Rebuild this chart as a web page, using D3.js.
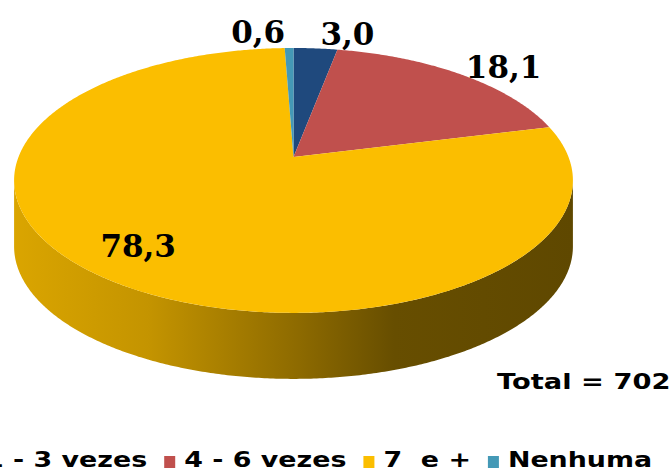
<!DOCTYPE html>
<html lang="en">
<head>
<meta charset="utf-8">
<script src="https://d3js.org/d3.v7.min.js"></script>
<style>
  body { margin: 0; background: white; }
  svg { display: block; background: white; }
  .lbl { font-family: 'DejaVu Serif'; font-weight: bold; font-size: 31px; fill: #000; }
  .leg, .total { font-family: 'DejaVu Sans'; font-weight: bold; fill: #000; white-space: pre; }
</style>
</head>
<body>
<svg width="671" height="471"></svg>
<script>
// data (percentages), clockwise from 12 o'clock
const categories = ["1 - 3 vezes", "4 - 6 vezes", "7  e +", "Nenhuma"];
const values = [3.0, 18.1, 78.3, 0.6];
const valueLabels = ["3,0", "18,1", "78,3", "0,6"];
const colors = ["#1F497D", "#C0504D", "#FBBE00", "#4499B6"];
const totalText = "Total = 702";

const svg = d3.select("svg");

// perspective projection of the unit disc: centre (CX,CY), k < 0 makes the front bigger
const CX = 293.5, CY = 157, A = 275, B = 128.3, K = -0.177, DEPTH = 66;
function proj(a, r, dy) {
  const u = r * Math.sin(a), v = -r * Math.cos(a);
  const w = 1 + K * v;
  return [CX + A * u / w, CY + B * v / w + (dy || 0)];
}
function arcPoints(a0, a1, r, dy) {
  const n = Math.max(2, Math.ceil(Math.abs(a1 - a0) / (Math.PI / 360)));
  return d3.range(n + 1).map(i => proj(a0 + (a1 - a0) * i / n, r, dy));
}
const line = d3.line();

const arcs = d3.pie().sort(null).value(d => d)(values);

// side wall (only the front half can be seen)
const aRight = Math.acos(K), aLeft = 2 * Math.PI - Math.acos(K);
const side = arcPoints(aRight, aLeft, 1).concat(arcPoints(aLeft, aRight, 1, DEPTH));

function shade(c, f) {
  const r = d3.rgb(c);
  return d3.rgb(r.r * f, r.g * f, r.b * f).formatHex();
}
const sideColor = colors[2];
const grad = svg.append("defs").append("linearGradient")
  .attr("id", "sideGrad").attr("gradientUnits", "userSpaceOnUse")
  .attr("x1", CX - A * 1.016).attr("x2", CX + A * 1.016).attr("y1", 0).attr("y2", 0);
[[0, 0.87], [0.24, 0.78], [0.51, 0.56], [0.68, 0.41], [1, 0.38]].forEach(s => {
  grad.append("stop").attr("offset", s[0]).attr("stop-color", shade(sideColor, s[1]));
});

svg.append("path")
  .attr("d", line(side) + "Z")
  .attr("fill", "url(#sideGrad)");

// top face
svg.append("g").selectAll("path")
  .data(arcs)
  .join("path")
  .attr("d", d => line([[CX, CY]].concat(arcPoints(d.startAngle, d.endAngle, 1))) + "Z")
  .attr("fill", (d, i) => colors[i]);

// value labels
svg.append("g").selectAll("text")
  .data(arcs)
  .join("text")
  .attr("class", "lbl")
  .each(function(d, i) {
    const mid = (d.startAngle + d.endAngle) / 2;
    const u = Math.sin(mid);
    const t = d3.select(this).text(valueLabels[i]);
    if (d.value > 50) {
      const p = proj(mid, 0.83);
      t.attr("x", p[0]).attr("y", p[1] + 4).attr("text-anchor", "middle");
    } else {
      const p = proj(mid, 1);
      t.attr("x", p[0] + (u >= 0 ? 5 : -4))
       .attr("y", p[1] - 5 + 13 * Math.abs(u))
       .attr("text-anchor", u >= 0 ? "start" : "end");
    }
  });

// total
svg.append("text")
  .attr("class", "total")
  .attr("font-size", 21)
  .attr("transform", "translate(497,389) scale(1.3,1)")
  .text(totalText);

// legend
const legend = svg.append("g");
let lx = -35;
categories.forEach((c, i) => {
  legend.append("rect")
    .attr("x", lx).attr("y", 456).attr("width", 11).attr("height", 12)
    .attr("fill", colors[i]);
  const t = legend.append("text")
    .attr("class", "leg")
    .attr("font-size", 21)
    .attr("transform", `translate(${lx + 20},467) scale(1.28,1)`)
    .text(c);
  lx += 20 + t.node().getComputedTextLength() * 1.28 + 17;
});
</script>
</body>
</html>
